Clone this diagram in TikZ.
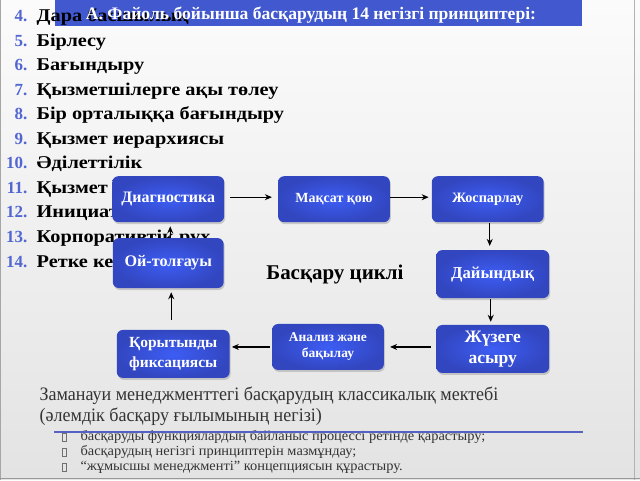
\documentclass[tikz,border=0pt]{standalone}
\usepackage{fontspec}
\setmainfont{Liberation Serif}
\newfontfamily\itemfont{Liberation Serif}[FakeStretch=1.13]
\newfontfamily\bodyfont{Liberation Serif}[FakeStretch=0.95]
\newfontfamily\bulfont{Liberation Serif}[FakeStretch=1.03]
\usetikzlibrary{shadows,arrows.meta}
\definecolor{barblue}{HTML}{4158CF}
\definecolor{boxin}{HTML}{3D5DF4}
\definecolor{boxout}{HTML}{3246C0}
\definecolor{numblue}{HTML}{5266D2}
\definecolor{bodygray}{HTML}{333333}
\definecolor{rule}{HTML}{5562C4}
\begin{document}
\begin{tikzpicture}[x=1pt,y=-1pt,
  cyc/.style={draw=none, rounded corners=6pt, inner color=boxin, outer color=boxout,
    text=white, align=center, minimum width=112pt, minimum height=46pt,
    inner sep=2pt, drop shadow={shadow xshift=1pt, shadow yshift=-2pt, opacity=0.35}},
  arr/.style={-{Stealth[length=7pt,width=6pt]}, line width=1.1pt},
  itemtxt/.style={anchor=base west, inner sep=0pt, font=\itemfont\fontsize{18}{20}\selectfont\bfseries},
  numtxt/.style={anchor=base east, inner sep=0pt, text=numblue, font=\fontsize{17}{19}\selectfont\bfseries},
  bodytxt/.style={anchor=base west, inner sep=0pt, text=bodygray, font=\bodyfont\fontsize{19}{21}\selectfont},
  bultxt/.style={anchor=base west, inner sep=0pt, text=bodygray, font=\bulfont\fontsize{14}{16}\selectfont},
  bulbox/.style={draw=bodygray!70, line width=0.5pt, minimum width=3.5pt, minimum height=8pt, inner sep=0pt}
]
% background
\shade[top color=white!97!gray, bottom color=gray!22] (0,0) rectangle (640,480);
\draw[gray!70, line width=1pt] (0.5,0) -- (0.5,480);
\draw[gray!60, line width=1pt] (635,0) -- (635,480);
\draw[gray!80, line width=1pt] (0,479) -- (640,479);
\useasboundingbox (0,0) rectangle (640,480);

% title bar
\fill[barblue] (55,0) rectangle (582,26);

% list of principles
\foreach \n/\t [count=\k from 0] in {4/Дара басшылық, 5/Бірлесу, 6/Бағындыру,
   7/Қызметшілерге ақы төлеу, 8/Бір орталыққа бағындыру, 9/Қызмет иерархиясы,
   10/Әділеттілік}{
  \node[numtxt] (num\n) at (27,{21+24.6*\k}) {\n.};
  \node[itemtxt] (item\n) at (36,{21+24.6*\k}) {\t};
}
\begin{scope}
\clip (0,170) rectangle (222,290);
\foreach \n/\t [count=\k from 7] in {11/Қызмет тұрақтылығы, 12/Инициативалық, 13/Корпоративтік рух,
   14/Ретке келтіру}{
  \node[numtxt] (num\n) at (27,{21+24.6*\k}) {\n.};
  \node[itemtxt] (item\n) at (36,{21+24.6*\k}) {\t};
}
\end{scope}

\node[anchor=base, text=white, inner sep=0pt, font=\fontsize{17.6}{19}\selectfont\bfseries]
  (title) at (311,19) {А. Файоль бойынша басқарудың 14 негізгі принциптері:};

% cycle boxes
\node[cyc, font=\fontsize{16}{18}\selectfont\bfseries] (diag) at (168,199) {Диагностика};
\node[cyc, font=\fontsize{14}{16}\selectfont\bfseries] (maks) at (334,199) {Мақсат қою};
\node[cyc, font=\fontsize{14.3}{16}\selectfont\bfseries] (zhos) at (488,199) {Жоспарлау};
\node[cyc, minimum width=113pt, minimum height=48pt, font=\fontsize{16.7}{18}\selectfont\bfseries] (daiy) at (493,274) {Дайындық};
\node[cyc, minimum width=113pt, minimum height=48pt, font=\fontsize{17.5}{21}\selectfont\bfseries] (zhuz) at (493,349) {Жүзеге\\асыру};
\node[cyc, minimum width=112pt, minimum height=46pt, font=\fontsize{13.5}{16}\selectfont\bfseries] (anal) at (328,347) {Анализ және\\бақылау};
\node[cyc, minimum width=113pt, minimum height=48pt, font=\fontsize{15.5}{20}\selectfont\bfseries] (koryt) at (173,354) {Қорытынды\\фиксациясы};
\node[cyc, minimum width=111pt, minimum height=50pt, font=\fontsize{16.2}{18}\selectfont\bfseries] (oi) at (168,263) {Ой-толғауы};

\node[anchor=base, inner sep=0pt, font=\fontsize{21}{23}\selectfont\bfseries] (cycle) at (335,279) {Басқару циклі};

% arrows
\draw[arr] ([xshift=6pt,yshift=2pt]diag.east) -- ([xshift=-6pt,yshift=2pt]maks.west);
\draw[arr] ([xshift=0pt,yshift=2pt]maks.east) -- ([xshift=-3pt,yshift=2pt]zhos.west);
\draw[arr] ([xshift=2pt,yshift=-1pt]zhos.south) -- ([xshift=-3pt,yshift=4pt]daiy.north);
\draw[arr] ([xshift=-2pt,yshift=-1pt]daiy.south) -- ([xshift=-2pt,yshift=3pt]zhuz.north);
\draw[arr] ([xshift=-5pt,yshift=2pt]zhuz.west) -- ([xshift=6pt,yshift=0pt]anal.east);
\draw[arr] ([xshift=-2pt,yshift=0pt]anal.west) -- ([xshift=2pt,yshift=7pt]koryt.east);
\draw[arr] ([xshift=-2pt,yshift=10pt]koryt.north) -- ([xshift=3pt,yshift=-4pt]oi.south);
\draw[arr] ([xshift=2pt]oi.north) -- ([xshift=2pt,yshift=-4pt]diag.south);

% bottom text
\node[bodytxt] (school1) at (39,401) {Заманауи менеджменттегі басқарудың классикалық мектебі};
\node[bodytxt] (school2) at (39,422) {(әлемдік басқару ғылымының негізі)};
\coordinate (ruleA) at (54,432);
\coordinate (ruleB) at (583,432);

\foreach \t/\yy [count=\k from 0] in {басқаруды функциялардың байланыс процессі ретінде қарастыру;/441,
   басқарудың негізгі принциптерін мазмұндау;/456,
   “жұмысшы менеджменті” концепциясын құрастыру./471}{
  \node[bulbox] (bul\k) at (64,\yy-4) {};
  \node[bultxt] (bt\k) at (80,\yy) {\t};
}
\draw[rule, line width=1.5pt] (ruleA) -- (ruleB);
\end{tikzpicture}
\end{document}
